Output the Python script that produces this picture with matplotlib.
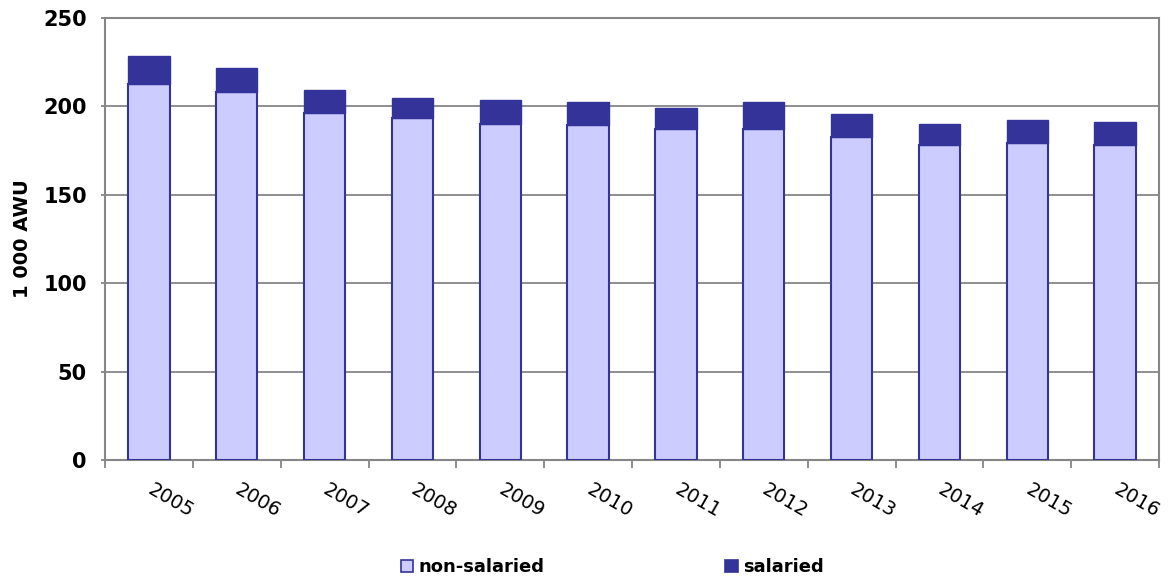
import matplotlib.pyplot as plt
import matplotlib.patches as mpatches
import numpy as np

# Data (1 000 AWU)
years = ['2005', '2006', '2007', '2008', '2009', '2010',
         '2011', '2012', '2013', '2014', '2015', '2016']
non_salaried = [212.8, 208.3, 196.0, 193.6, 190.3, 189.3,
                187.0, 187.0, 182.5, 178.2, 179.1, 178.2]
total = [228.6, 221.9, 209.4, 204.9, 203.8, 202.6,
         199.3, 202.6, 195.9, 190.2, 192.5, 191.4]
salaried = [t - n for t, n in zip(total, non_salaried)]

LIGHT = '#CCCCFF'
DARK = '#333399'
GRID = '#868686'

fig = plt.figure(figsize=(11.71, 5.79), dpi=100)
ax = fig.add_axes([0.0897, 0.2055, 0.9001, 0.7635])

x = np.arange(len(years))
ax.bar(x, non_salaried, width=0.47, color=LIGHT, edgecolor=DARK, linewidth=1.5,
       zorder=3, label='non-salaried')
ax.bar(x, salaried, width=0.47, bottom=non_salaried, color=DARK, edgecolor=DARK,
       linewidth=1.0, zorder=3, label='salaried')

ax.set_xlim(-0.5, len(years) - 0.5)
ax.set_ylim(0, 250)
ax.set_yticks([0, 50, 100, 150, 200, 250])
ax.yaxis.grid(True, color=GRID, linewidth=1.3, zorder=0)
ax.set_axisbelow(True)

for s in ax.spines.values():
    s.set_color(GRID)
    s.set_linewidth(1.5)

ax.tick_params(axis='y', length=3, color=GRID, width=1.3, pad=10)
for lab in ax.get_yticklabels():
    lab.set_fontsize(15)
    lab.set_fontweight('bold')

ax.set_xticks(x)
ax.set_xticklabels(years, rotation=-30, ha='left', va='center',
                   rotation_mode='anchor', fontsize=14)
ax.tick_params(axis='x', which='major', length=0, pad=20)
ax.set_xticks(np.arange(-0.5, len(years) + 0.5, 1), minor=True)
ax.tick_params(axis='x', which='minor', length=6, color=GRID, width=1.3)

ax.set_ylabel('1 000 AWU', fontsize=14, fontweight='bold', labelpad=8)

h1 = mpatches.Patch(facecolor=LIGHT, edgecolor=DARK, linewidth=1.2)
h2 = mpatches.Patch(facecolor=DARK, edgecolor=DARK, linewidth=1.2)
fig.legend([h1, h2], ['non-salaried', 'salaried'], loc='center',
           bbox_to_anchor=(0.523, 0.02), ncol=2, frameon=False,
           prop={'size': 13, 'weight': 'bold'}, handlelength=0.7,
           handleheight=0.7, handletextpad=0.3, columnspacing=10)

fig.savefig('out.png', dpi=100)
